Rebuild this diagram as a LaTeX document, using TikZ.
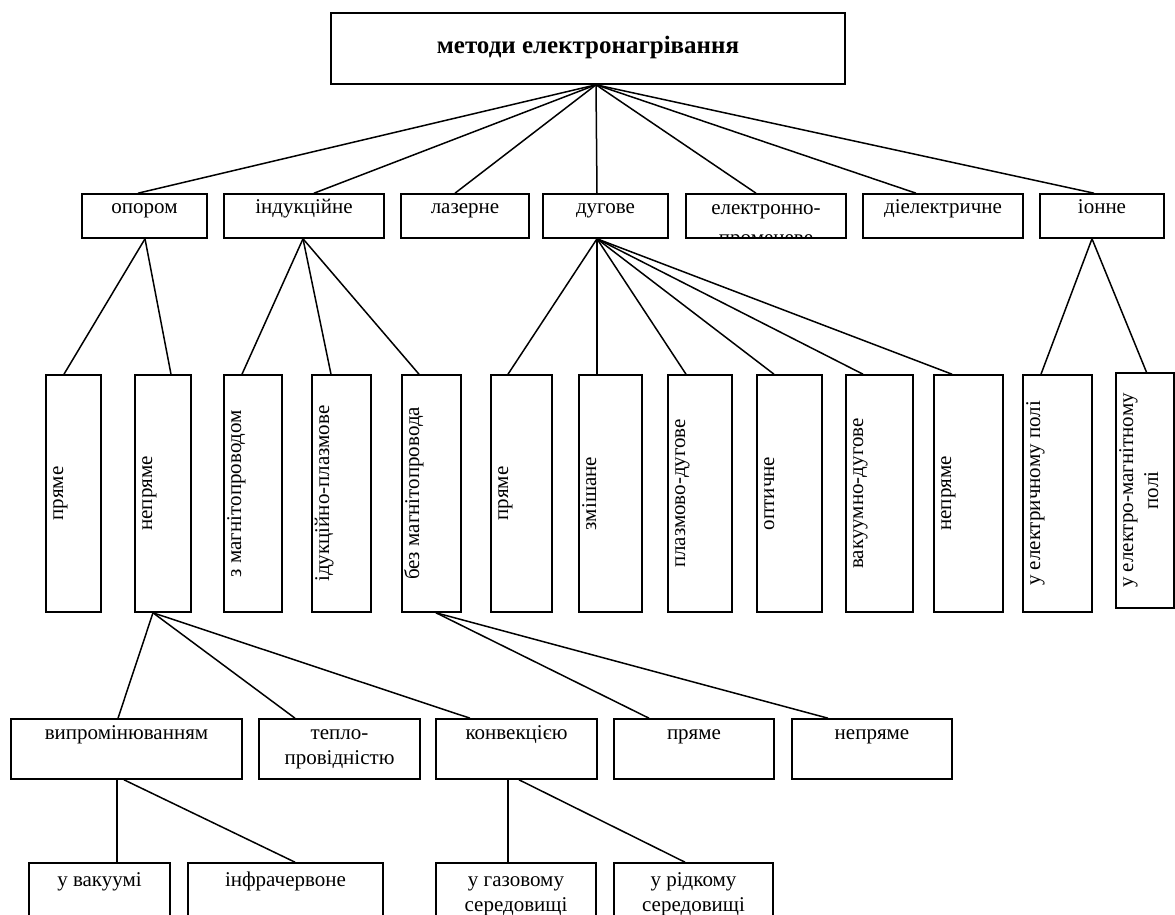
\documentclass[tikz,border=0pt]{standalone}
\usepackage{fontspec}
\setmainfont{Liberation Serif}
\usetikzlibrary{positioning,calc}

\tikzset{
  box/.style={draw, line width=0.8pt, inner sep=0pt, minimum height=22pt},
  tall/.style={draw, line width=0.8pt, inner sep=0pt, minimum height=118.5pt, label distance=-1.25pt},
  txt/.style={font=\fontsize{10.5}{12.5}\selectfont, inner sep=0pt, align=center},
  titletxt/.style={txt, font=\bfseries\fontsize{12.5}{15}\selectfont, anchor=north, yshift=-10pt},
  toptxt/.style={txt, anchor=north, yshift=-1.25pt},
  midtxt/.style={txt, anchor=north, yshift=-1.75pt},
  lowtxt/.style={txt, anchor=north, yshift=-3.25pt},
  sidetxt/.style={txt, rotate=90, anchor=north},
  link/.style={line width=0.75pt},
}

\begin{document}
\begin{tikzpicture}[x=0.5pt, y=-0.5pt]
\useasboundingbox (0,0) rectangle (1175,915);

% root
\node[box, minimum width=257pt, minimum height=35.5pt, label={[titletxt]north:\strut методи електронагрівання}] (root) at (588,48.5) {};

% methods
\node[box, minimum width=62.5pt, label={[toptxt]north:\strut опором}] (opor) at (144.5,216) {};
\node[box, minimum width=80pt, label={[toptxt]north:\strut індукційне}] (indu) at (304,216) {};
\node[box, minimum width=64pt, label={[toptxt]north:\strut лазерне}] (laz) at (465,216) {};
\node[box, minimum width=62.5pt, label={[toptxt]north:\strut дугове}] (dug) at (605.5,216) {};
\node[box, minimum width=80pt, path picture={\node[toptxt] (elpr-t) at (path picture bounding box.north) {\strut електронно-\\[2.5pt]променеве};}] (elpr) at (766,216) {};
\node[box, minimum width=80pt, label={[toptxt]north:\strut діелектричне}] (diel) at (943,216) {};
\node[box, minimum width=62pt, label={[toptxt]north:\strut іонне}] (ion) at (1102,216) {};

\draw[link] ([xshift=4pt]root.south) -- ([xshift=-3.25pt]opor.north);
\draw[link] ([xshift=4pt]root.south) -- ([xshift=5pt]indu.north);
\draw[link] ([xshift=4pt]root.south) -- ([xshift=-5pt]laz.north);
\draw[link] ([xshift=4pt]root.south) -- ([xshift=-4.25pt]dug.north);
\draw[link] ([xshift=4pt]root.south) -- ([xshift=-5pt]elpr.north);
\draw[link] ([xshift=4pt]root.south) -- ([xshift=-13.5pt]diel.north);
\draw[link] ([xshift=4pt]root.south) -- ([xshift=-4pt]ion.north);

% kinds
\node[tall, minimum width=27.5pt, label={[sidetxt]west:\strut пряме}] (pr1) at (73.5,493.5) {};
\node[tall, minimum width=28pt, label={[sidetxt]west:\strut непряме}] (nep1) at (163,493.5) {};
\node[tall, minimum width=29pt, label={[sidetxt]west:\strut з магнітопроводом}] (zmag) at (253,493.5) {};
\node[tall, minimum width=29.5pt, label={[sidetxt]west:\strut ідукційно-плазмове}] (idpl) at (341.5,493.5) {};
\node[tall, minimum width=29.5pt, label={[sidetxt]west:\strut без магнітопровода}] (bezm) at (431.5,493.5) {};
\node[tall, minimum width=30.5pt, label={[sidetxt]west:\strut пряме}] (pr2) at (521.5,493.5) {};
\node[tall, minimum width=31.5pt, label={[sidetxt]west:\strut змішане}] (zmis) at (610.5,493.5) {};
\node[tall, minimum width=32pt, label={[sidetxt]west:\strut плазмово-дугове}] (plaz) at (700,493.5) {};
\node[tall, minimum width=32.5pt, label={[sidetxt]west:\strut оптичне}] (opt) at (789.5,493.5) {};
\node[tall, minimum width=33.5pt, label={[sidetxt]west:\strut вакуумно-дугове}] (vak) at (879.5,493.5) {};
\node[tall, minimum width=34.5pt, label={[sidetxt]west:\strut непряме}] (nep2) at (968.5,493.5) {};
\node[tall, minimum width=34.5pt, label={[sidetxt]west:\strut у електричному полі}] (uel) at (1057.5,493.5) {};
\node[tall, minimum width=29pt, minimum height=117.5pt, label={[sidetxt]west:\strut у електро-магнітному\\полі}] (uelm) at (1145,490.5) {};

\draw[link] ([xshift=0.25pt]opor.south) -- ([xshift=-4.75pt]pr1.north);
\draw[link] ([xshift=0.25pt]opor.south) -- ([xshift=4pt]nep1.north);
\draw[link] ([xshift=-0.5pt]indu.south) -- ([xshift=-5.5pt]zmag.north);
\draw[link] ([xshift=-0.5pt]indu.south) -- ([xshift=-5.25pt]idpl.north);
\draw[link] ([xshift=-0.5pt]indu.south) -- ([xshift=-6.25pt]bezm.north);
\draw[link] ([xshift=-4.25pt]dug.south) -- ([xshift=-6.75pt]pr2.north);
\draw[link] ([xshift=-4.25pt]dug.south) -- ([xshift=-6.75pt]zmis.north);
\draw[link] ([xshift=-4.25pt]dug.south) -- ([xshift=-7pt]plaz.north);
\draw[link] ([xshift=-4.25pt]dug.south) -- ([xshift=-7.75pt]opt.north);
\draw[link] ([xshift=-4.25pt]dug.south) -- ([xshift=-8.25pt]vak.north);
\draw[link] ([xshift=-4.25pt]dug.south) -- ([xshift=-8.25pt]nep2.north);
\draw[link] ([xshift=-5pt]ion.south) -- ([xshift=-8.25pt]uel.north);
\draw[link] ([xshift=-5pt]ion.south) -- ([xshift=0.75pt]uelm.north);

% heat transfer
\node[box, minimum width=115.5pt, minimum height=30pt, label={[midtxt]north:\strut випромінюванням}] (vypr) at (126.5,749) {};
\node[box, minimum width=80.5pt, minimum height=30pt, label={[midtxt]north:\strut тепло-\\провідністю}] (tepl) at (339.5,749) {};
\node[box, minimum width=80.5pt, minimum height=30pt, label={[midtxt]north:\strut конвекцією}] (konv) at (516.5,749) {};
\node[box, minimum width=80pt, minimum height=30pt, label={[midtxt]north:\strut пряме}] (pr3) at (694,749) {};
\node[box, minimum width=80pt, minimum height=30pt, label={[midtxt]north:\strut непряме}] (nep3) at (872,749) {};

\draw[link] ([xshift=-5pt]nep1.south) -- ([xshift=-4.25pt]vypr.north);
\draw[link] ([xshift=-5pt]nep1.south) -- ([xshift=-22.25pt]tepl.north);
\draw[link] ([xshift=-5pt]nep1.south) -- ([xshift=-23.25pt]konv.north);
\draw[link] ([xshift=2.25pt]bezm.south) -- ([xshift=-22.5pt]pr3.north);
\draw[link] ([xshift=2.25pt]bezm.south) -- ([xshift=-22pt]nep3.north);

% media
\node[box, minimum width=70.5pt, minimum height=36pt, label={[lowtxt]north:\strut у вакуумі}] (uvak) at (99.5,899) {};
\node[box, minimum width=97.5pt, minimum height=36pt, label={[lowtxt]north:\strut інфрачервоне}] (infr) at (285.5,899) {};
\node[box, minimum width=80pt, minimum height=36pt, label={[lowtxt]north:\strut у газовому\\середовищі}] (ugaz) at (516,899) {};
\node[box, minimum width=79.5pt, minimum height=36pt, label={[lowtxt]north:\strut у рідкому\\середовищі}] (uridk) at (693.5,899) {};

\draw[link] ([xshift=-4.75pt]vypr.south) -- ([xshift=8.75pt]uvak.north);
\draw[link] ([xshift=-1.25pt]vypr.south) -- ([xshift=4.75pt]infr.north);
\draw[link] ([xshift=-4.25pt]konv.south) -- ([xshift=-4pt]ugaz.north);
\draw[link] ([xshift=1.25pt]konv.south) -- ([xshift=-4.25pt]uridk.north);
\end{tikzpicture}
\end{document}
